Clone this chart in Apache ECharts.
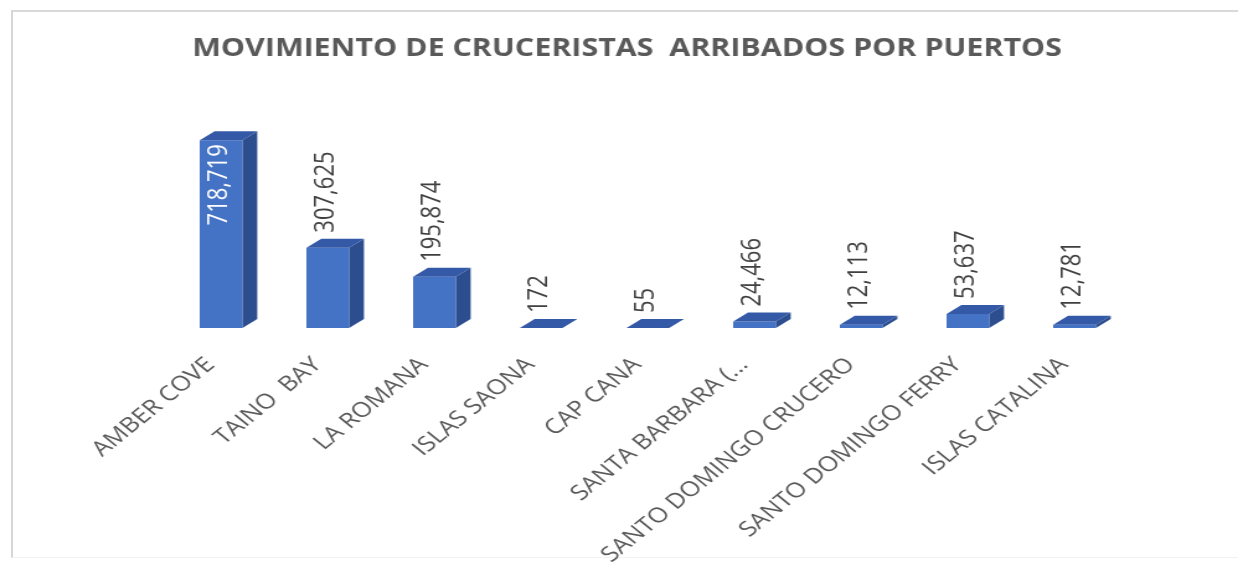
<!DOCTYPE html>
<html>
<head>
<meta charset="utf-8">
<script src="https://cdn.jsdelivr.net/npm/echarts@6/dist/echarts.min.js"></script>
<style>
  html, body { margin: 0; padding: 0; background: #ffffff; overflow: hidden; }
  #frame { position: absolute; left: 11px; top: 10px; width: 1300px; height: 545px;
           border-left: 2px solid #d6d6d6; border-top: 2px solid #d9d9d9; border-bottom: 1px solid #f2f2f2; }
  #chart { position: absolute; left: 0; top: 0; width: 998px; height: 565px;
           transform: scaleX(1.2405); transform-origin: 0 0; }
</style>
</head>
<body>
<div id="frame"></div>
<div id="chart"></div>
<script>
const titleText = 'MOVIMIENTO DE CRUCERISTAS  ARRIBADOS POR PUERTOS';
const categories = ['AMBER COVE', 'TAINO  BAY', 'LA ROMANA', 'ISLAS SAONA', 'CAP CANA',
  'SANTA BARBARA (...', 'SANTO DOMINGO CRUCERO', 'SANTO DOMINGO FERRY', 'ISLAS CATALINA'];
const passengers = [718719, 307625, 195874, 172, 55, 24466, 12113, 53637, 12781];

const chart = echarts.init(document.getElementById('chart'), null, { renderer: 'canvas' });

const FRONT = '#4472C4', SIDE = '#2C4E8F', TOP = '#3459A6';
const DX = 12, DY = -9;

function renderItem(params, api) {
  const i = api.value(0), v = api.value(1);
  const base = api.coord([i, 0]);
  const top = api.coord([i, v]);
  const band = api.size([1, 0])[0];
  const w = band * 0.40;
  const x0 = base[0] - w / 2, x1 = base[0] + w / 2;
  const yb = base[1], yt = top[1];
  const inside = (yt - params.coordSys.y) < 90;
  const label = v.toLocaleString('en-US');
  return {
    type: 'group',
    children: [
      { type: 'polygon', shape: { points: [[x1, yt], [x1 + DX, yt + DY], [x1 + DX, yb + DY], [x1, yb]] },
        style: { fill: SIDE } },
      { type: 'rect', shape: { x: x0, y: yt, width: w, height: yb - yt }, style: { fill: FRONT } },
      { type: 'polygon', shape: { points: [[x0, yt], [x1, yt], [x1 + DX, yt + DY], [x0 + DX, yt + DY]] },
        style: { fill: TOP } },
      { type: 'text', x: base[0] - 1, y: inside ? yt + 4 : yt - 15, rotation: Math.PI / 2,
        style: { text: label, fill: inside ? '#ffffff' : '#404040',
                 font: '22px "Open Sans"', align: inside ? 'right' : 'left', verticalAlign: 'middle' } }
    ]
  };
}

chart.setOption({
  animation: false,
  backgroundColor: 'transparent',
  title: {
    text: titleText, left: 155, top: 37, padding: 0,
    textStyle: { fontFamily: 'Open Sans', fontSize: 24.5, fontWeight: 'bold', color: '#595959' }
  },
  grid: { left: 135.2, right: 88.8, top: 119, bottom: 237, containLabel: false, outerBoundsMode: 'none' },
  xAxis: {
    type: 'category', data: categories,
    axisLine: { show: false }, axisTick: { show: false }, splitLine: { show: false },
    axisLabel: { interval: 0, rotate: 45, margin: 25, padding: [0, 12, 0, 0],
                 fontSize: 21, fontFamily: 'Open Sans', color: '#595959' }
  },
  yAxis: { type: 'value', min: 0, max: 800000, show: false },
  series: [{
    type: 'custom',
    renderItem: renderItem,
    encode: { x: 0, y: 1 },
    data: passengers.map((v, i) => [i, v])
  }]
});
</script>
</body>
</html>
